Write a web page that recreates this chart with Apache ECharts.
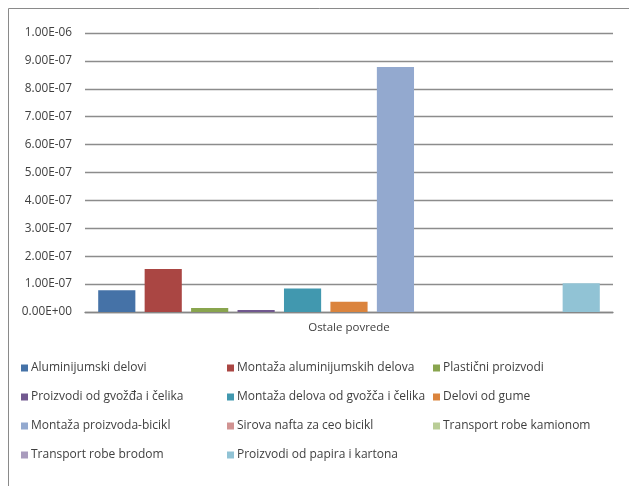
<!DOCTYPE html>
<html><head><meta charset="utf-8">
<script src="https://cdn.jsdelivr.net/npm/echarts@6/dist/echarts.min.js"></script>
<style>html,body{margin:0;padding:0;background:#fff}#c{width:629px;height:486px}</style>
</head><body><div id="c"></div>
<script>
const categories = ["Ostale povrede"];
const seriesNames = [
  "Aluminijumski delovi",
  "Montaža aluminijumskih delova",
  "Plastični proizvodi",
  "Proizvodi od gvožđa i čelika",
  "Montaža delova od gvožča i čelika",
  "Delovi od gume",
  "Montaža proizvoda-bicikl",
  "Sirova nafta za ceo bicikl",
  "Transport robe kamionom",
  "Transport robe brodom",
  "Proizvodi od papira i kartona"
];
const seriesValues = [7.8e-8, 1.54e-7, 1.4e-8, 7e-9, 8.4e-8, 3.7e-8, 8.78e-7, 0, 0, 0, 1.03e-7];
const seriesColors = ["#4572A7","#AA4643","#89A54E","#71588F","#4198AF","#DB843D","#93A9CF","#D19392","#B9CD96","#A99BBD","#91C3D5"];
const legendCols = [
  [0, 3, 6, 9],
  [1, 4, 7, 10],
  [2, 5, 8]
];

function fmt(v){
  if (Math.abs(v) < 1e-20) return "0.00E+00";
  let e = Math.floor(Math.log10(Math.abs(v)) + 1e-9);
  let m = v / Math.pow(10, e);
  if (Math.abs(m) >= 9.995) { m /= 10; e += 1; }
  const sign = e < 0 ? "-" : "+";
  const ae = Math.abs(e);
  return m.toFixed(2) + "E" + sign + (ae < 10 ? "0" + ae : "" + ae);
}

const font = "'Open Sans', 'Liberation Sans', sans-serif";
const chart = echarts.init(document.getElementById('c'), null, {renderer: 'canvas'});
const legendX = [16, 222, 428];
chart.setOption({
  animation: false,
  backgroundColor: '#fff',
  graphic: [{
    type: 'rect', shape: {x: 8.5, y: 8.5, width: 640, height: 500},
    style: {fill: 'none', stroke: '#8a8a8a', lineWidth: 1}, silent: true
  }],
  grid: {left: 85, right: 16, top: 33, bottom: 174},
  legend: legendCols.map((col, i) => ({
    orient: 'vertical',
    left: legendX[i], top: 357,
    itemWidth: 7, itemHeight: 7, itemGap: 17,
    icon: 'rect',
    data: col.map(k => seriesNames[k]),
    textStyle: {fontFamily: font, fontSize: 12, color: '#404040', padding: [0, 0, 0, -2]}
  })),
  xAxis: {
    type: 'category', data: categories,
    axisLine: {lineStyle: {color: '#868686', width: 1.3}},
    axisTick: {show: false},
    axisLabel: {fontFamily: font, fontSize: 11.5, color: '#404040', margin: 10}
  },
  yAxis: {
    type: 'value', min: 0, max: 1e-6, interval: 1e-7,
    axisLine: {show: false}, axisTick: {show: false},
    splitLine: {lineStyle: {color: '#8c8c8c', width: 1.3}},
    axisLabel: {fontFamily: font, fontSize: 11.8, color: '#404040', margin: 13, formatter: fmt}
  },
  series: seriesNames.map((n, i) => ({
    name: n, type: 'bar', data: [seriesValues[i]],
    barGap: '25%', barCategoryGap: '5%',
    itemStyle: {color: seriesColors[i]}
  }))
});
</script></body></html>
